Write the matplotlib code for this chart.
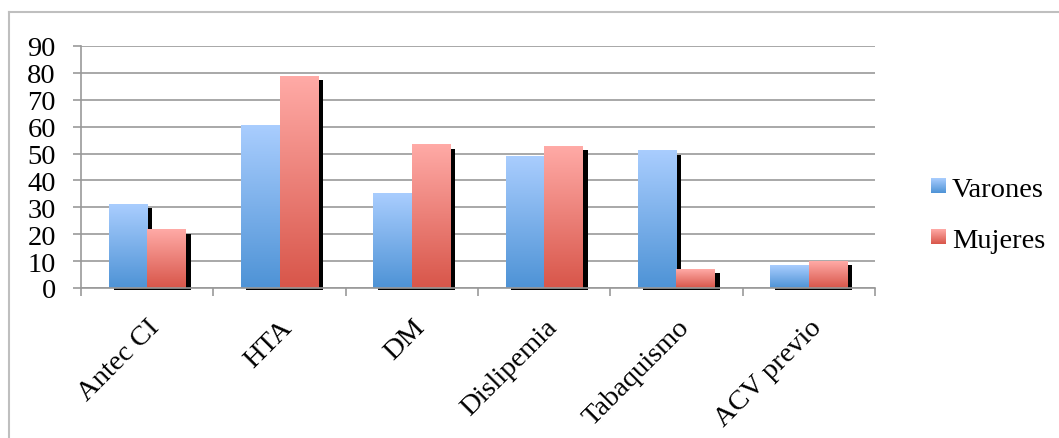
import numpy as np
import matplotlib.pyplot as plt
from matplotlib.patches import Rectangle
from matplotlib.lines import Line2D
from matplotlib.colors import to_rgb
import matplotlib.transforms as mtransforms

categories = ["Antec CI", "HTA", "DM", "Dislipemia", "Tabaquismo", "ACV previo"]
varones = [31.2, 60.6, 35.3, 49.0, 51.0, 8.5]
mujeres = [21.6, 78.8, 53.2, 52.8, 7.0, 10.0]
series_names = ["Varones", "Mujeres"]

blue_top, blue_bot = "#A9CDFE", "#4E93D6"
red_top, red_bot = "#FFAAA6", "#D8564A"

plt.rcParams['font.family'] = ['Liberation Serif', 'DejaVu Serif']
FS = 20.5

fig = plt.figure(figsize=(10.59, 4.39), dpi=100)
ax = fig.add_axes([81 / 1059, 1 - 289 / 439, 794 / 1059, 242 / 439])


def gradient(c_top, c_bot, n=100):
    t = np.linspace(0, 1, n)[:, None]
    a, b = np.array(to_rgb(c_top)), np.array(to_rgb(c_bot))
    return (a * (1 - t) + b * t)[:, None, :]


# shadow: shifted right in pixels, a bit lower than the bar top
shadow_tr = ax.transData + mtransforms.ScaledTranslation(5 / 100, 0, fig.dpi_scale_trans)
w = 0.29
for i in range(len(categories)):
    c = i + 0.5
    for x0, h, ct, cb in [(c - w, varones[i], blue_top, blue_bot),
                          (c, mujeres[i], red_top, red_bot)]:
        ax.add_patch(Rectangle((x0, -0.8), w, h - 0.7, transform=shadow_tr, color="black",
                               lw=0, zorder=2, clip_on=False))
        ax.imshow(gradient(ct, cb), extent=(x0, x0 + w, 0, h), aspect="auto",
                  zorder=3, interpolation="bilinear")

ax.set_xlim(0, 6)
ax.set_ylim(0, 90)
ax.set_yticks(range(0, 91, 10))
ax.set_xticks(range(0, 7))
ax.set_xticklabels([])
ax.set_xticks(np.arange(6) + 0.5, minor=True)
ax.set_xticklabels(categories, minor=True, rotation=45, ha="right",
                   rotation_mode="anchor", fontsize=FS)
ax.tick_params(axis="x", which="minor", length=0, pad=19)
ax.tick_params(axis="x", which="major", length=6, width=1.2, color="#999999")
ax.tick_params(axis="y", length=6, width=1.2, color="#999999", labelsize=FS, pad=12)
ax.grid(axis="y", color="#999999", lw=1.2, zorder=1)
ax.set_axisbelow(True)
for s in ["top", "right"]:
    ax.spines[s].set_visible(False)
for s in ["left", "bottom"]:
    ax.spines[s].set_color("#999999")
    ax.spines[s].set_linewidth(1.2)
    ax.spines[s].set_zorder(4)

# legend with gradient swatches
for k, (name, ct, cb) in enumerate([(series_names[0], blue_top, blue_bot),
                                    (series_names[1], red_top, red_bot)]):
    y_top = 179 + k * 51
    sw = fig.add_axes([931 / 1059, 1 - (y_top + 15) / 439, 15 / 1059, 15 / 439])
    sw.imshow(gradient(ct, cb), aspect="auto", interpolation="bilinear")
    sw.axis("off")
    fig.text(952 / 1059, 1 - (y_top + 18) / 439, name, fontsize=FS, va="baseline")

# outer frame
fig.add_artist(Line2D([9 / 1059, 1], [1 - 13 / 439] * 2, color="#bfbfbf", lw=1.5))
fig.add_artist(Line2D([9 / 1059] * 2, [0, 1 - 13 / 439], color="#bfbfbf", lw=1.5))

fig.savefig("out.png", dpi=100)
